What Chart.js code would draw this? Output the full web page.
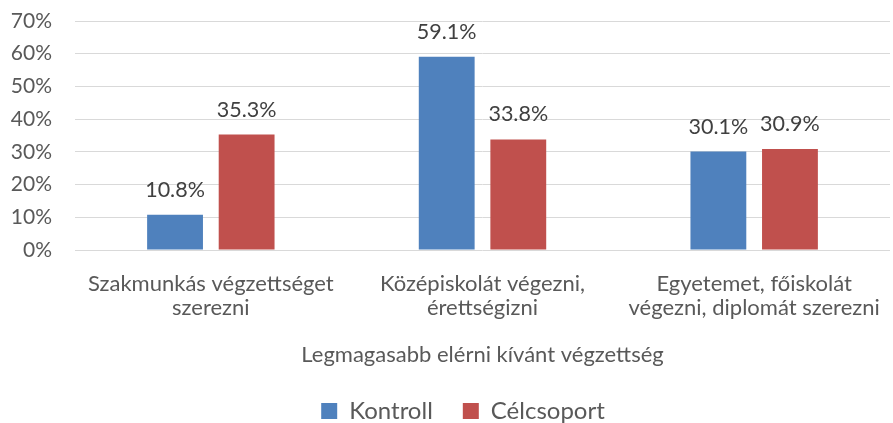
<!DOCTYPE html>
<html>
<head>
<meta charset="utf-8">
<script src="https://cdn.jsdelivr.net/npm/chart.js@4/dist/chart.umd.min.js"></script>
<style>
  html, body { margin: 0; padding: 0; background: #fff; }
  #wrap { width: 893px; height: 423px; }
</style>
</head>
<body>
<div id="wrap"><canvas id="chart"></canvas></div>
<script>
const categories = [
  ["Szakmunkás végzettséget", "szerezni"],
  ["Középiskolát végezni,", "érettségizni"],
  ["Egyetemet, főiskolát", "végezni, diplomát szerezni"]
];
const kontroll = [10.8, 59.1, 30.1];
const celcsoport = [35.3, 33.8, 30.9];
const yTicks = [0, 10, 20, 30, 40, 50, 60, 70];

const font = "Lato, 'Open Sans', sans-serif";

// draws the value above every bar
const barLabels = {
  id: 'barLabels',
  afterDatasetsDraw(chart) {
    const ctx = chart.ctx;
    ctx.save();
    ctx.font = "21.5px " + font;
    ctx.fillStyle = '#404040';
    ctx.textAlign = 'center';
    ctx.textBaseline = 'alphabetic';
    chart.data.datasets.forEach((ds, i) => {
      chart.getDatasetMeta(i).data.forEach((bar, j) => {
        ctx.fillText(ds.data[j].toFixed(1) + '%', bar.x, bar.y - 18);
      });
    });
    ctx.restore();
  }
};

// legend in the original sits a bit right of the page centre
const legendShift = {
  id: 'legendShift',
  afterLayout(chart) {
    chart.legend.left += 18;
    chart.legend.right += 18;
  }
};

new Chart(document.getElementById('chart'), {
  type: 'bar',
  data: {
    labels: categories,
    datasets: [
      { label: 'Kontroll', data: kontroll, backgroundColor: '#4F81BD' },
      { label: 'Célcsoport', data: celcsoport, backgroundColor: '#C0504D' }
    ]
  },
  options: {
    responsive: true,
    maintainAspectRatio: false,
    animation: false,
    categoryPercentage: 0.527,
    barPercentage: 0.78,
    layout: { padding: { top: 0, right: 3, left: 0, bottom: -10 } },
    plugins: {
      legend: {
        position: 'bottom',
        labels: {
          font: { family: font, size: 24 },
          color: '#595959',
          boxWidth: 16,
          boxHeight: 16,
          padding: 30
        }
      },
      tooltip: { enabled: false }
    },
    scales: {
      x: {
        afterFit(scale) { scale.height = 119; },
        grid: { color: 'transparent', drawOnChartArea: false, drawTicks: true, tickLength: 20, tickColor: 'transparent' },
        border: { display: false },
        ticks: {
          font: { family: font, size: 22, lineHeight: 1.13 },
          color: '#595959',
          padding: 1,
          maxRotation: 0,
          autoSkip: false
        },
        title: {
          display: true,
          text: 'Legmagasabb elérni kívánt végzettség',
          font: { family: font, size: 22 },
          color: '#595959',
          padding: { top: 10, bottom: 1 }
        }
      },
      y: {
        min: 0,
        max: 70,
        afterFit(scale) { scale.width = 75; },
        afterBuildTicks(scale) { scale.ticks = yTicks.map(v => ({ value: v })); },
        grid: { color: '#D9D9D9', drawTicks: true, tickLength: 14.6, tickColor: 'transparent' },
        border: { display: false },
        ticks: {
          font: { family: font, size: 21 },
          color: '#595959',
          padding: 8.4,
          callback: v => v + '%'
        }
      }
    }
  },
  plugins: [barLabels, legendShift]
});
</script>
</body>
</html>
